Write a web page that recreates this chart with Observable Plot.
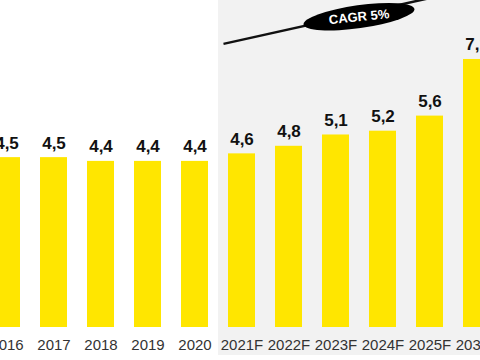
<!DOCTYPE html>
<html>
<head>
<meta charset="utf-8">
<script src="https://cdn.jsdelivr.net/npm/d3@7"></script>
<script src="https://cdn.jsdelivr.net/npm/@observablehq/plot@0.6"></script>
<style>
  html, body { margin: 0; padding: 0; background: #ffffff; }
  #chart { width: 480px; height: 360px; overflow: hidden; }
</style>
</head>
<body>
<div id="chart"></div>
<script>
const years = ["2016", "2017", "2018", "2019", "2020", "2021F", "2022F", "2023F", "2024F", "2025F", "2030F"];
const values = [4.5, 4.5, 4.4, 4.4, 4.4, 4.6, 4.8, 5.1, 5.2, 5.6, 7.1];
const forecastYears = ["2021F", "2022F", "2023F", "2024F", "2025F", "2030F"];
const cagrLabel = "CAGR 5%";

const data = years.map((y, i) => ({year: y, value: values[i]}));
const fmt = v => v.toFixed(1).replace(".", ",");

const chart = Plot.plot({
  width: 480,
  height: 360,
  marginTop: 25,
  marginBottom: 33,
  marginLeft: 0,
  marginRight: 0,
  style: {fontFamily: "'Liberation Sans', Arial, sans-serif", background: "transparent"},
  x: {domain: years, range: [-17.5, 499.5], paddingInner: 0.43, paddingOuter: 0.215, align: 0.5},
  y: {domain: [0, 8], axis: null},
  marks: [
    Plot.barY(data, {x: "year", y: "value", fill: "#ffe600"}),
    Plot.text(data, {x: "year", y: "value", text: d => fmt(d.value), lineAnchor: "bottom", dy: -9,
      fontSize: 17, fontWeight: "bold", fill: "#111"}),
    Plot.axisX({tickSize: 0, tickPadding: 12, fontSize: 15, color: "#333", label: null})
  ]
});

document.getElementById("chart").appendChild(chart);

// Forecast shading and CAGR annotation, placed with the chart's scales
const xs = chart.scale("x");
const ys = chart.scale("y");
const cx = k => xs.apply(k) + xs.bandwidth / 2;
const gap = xs.step - xs.bandwidth;
const svg = d3.select(chart);

svg.insert("rect", "g")
  .attr("x", xs.apply(forecastYears[0]) - gap / 2)
  .attr("y", 0)
  .attr("width", 480)
  .attr("height", ys.apply(0) + 28)
  .attr("fill", "#f2f2f2");

const ann = svg.append("g");
const x0 = cx("2021F") - 18, y0 = ys.apply(7.5);
const x1 = cx("2025F") + 15, y1 = ys.apply(8.8);
ann.append("line")
  .attr("x1", x0).attr("y1", y0).attr("x2", x1).attr("y2", y1)
  .attr("stroke", "#111").attr("stroke-width", 2.5);
const ex = (cx("2023F") + cx("2024F")) / 2, ey = ys.apply(8.22);
ann.append("ellipse")
  .attr("cx", ex).attr("cy", ey).attr("rx", 56).attr("ry", 11.5)
  .attr("fill", "#000")
  .attr("transform", `rotate(-8 ${ex} ${ey})`);
ann.append("text")
  .attr("x", ex).attr("y", ey)
  .attr("text-anchor", "middle").attr("dominant-baseline", "central")
  .attr("fill", "#fff").attr("font-weight", "bold").attr("font-size", 13)
  .attr("font-family", "'Liberation Sans', Arial, sans-serif")
  .attr("transform", `rotate(-6 ${ex} ${ey})`)
  .text(cagrLabel);
</script>
</body>
</html>
